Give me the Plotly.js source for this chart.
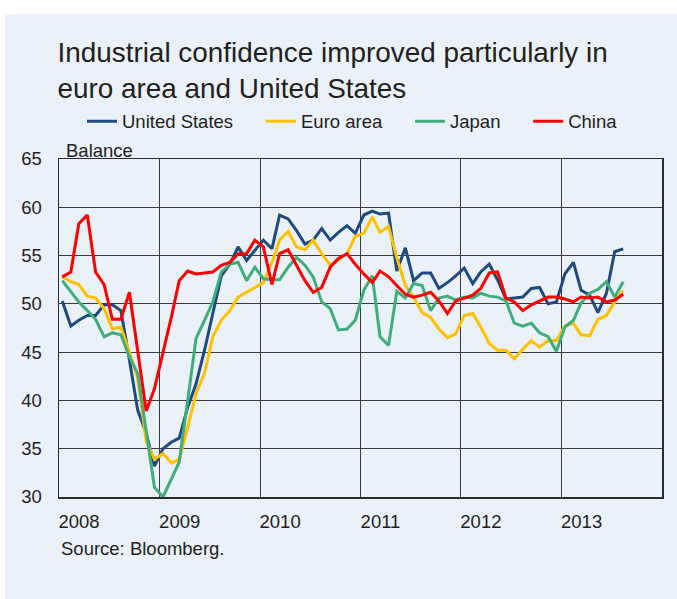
<!DOCTYPE html>
<html>
<head>
<meta charset="utf-8">
<script src="https://cdn.plot.ly/plotly-3.0.1.min.js"></script>
<style>
  html, body { margin: 0; padding: 0; background: #ffffff; width: 677px; height: 599px; overflow: hidden; }
  #chart { position: absolute; left: 5px; top: 14px; width: 672px; height: 585px; }
</style>
</head>
<body>
<div id="chart"></div>
<script>
// Months (Jan 2008 - Aug 2013)
const months = [
  '2008-01','2008-02','2008-03','2008-04','2008-05','2008-06','2008-07','2008-08','2008-09','2008-10','2008-11','2008-12',
  '2009-01','2009-02','2009-03','2009-04','2009-05','2009-06','2009-07','2009-08','2009-09','2009-10','2009-11','2009-12',
  '2010-01','2010-02','2010-03','2010-04','2010-05','2010-06','2010-07','2010-08','2010-09','2010-10','2010-11','2010-12',
  '2011-01','2011-02','2011-03','2011-04','2011-05','2011-06','2011-07','2011-08','2011-09','2011-10','2011-11','2011-12',
  '2012-01','2012-02','2012-03','2012-04','2012-05','2012-06','2012-07','2012-08','2012-09','2012-10','2012-11','2012-12',
  '2013-01','2013-02','2013-03','2013-04','2013-05','2013-06','2013-07','2013-08'
];

const unitedStates = [
  50.3,47.7,48.3,48.8,48.8,49.9,49.9,49.3,44.2,39.0,36.6,33.2,
  35.0,35.7,36.1,39.3,41.7,45.2,49.0,52.9,54.1,55.9,54.5,55.5,
  56.6,55.7,59.2,58.8,57.6,56.2,56.6,57.8,56.6,57.4,58.1,57.3,
  59.2,59.6,59.3,59.4,53.4,55.8,52.4,53.2,53.2,51.6,52.2,52.9,
  53.7,52.1,53.3,54.1,52.5,50.5,50.6,50.7,51.6,51.7,50.0,50.2,
  53.1,54.3,51.4,50.9,49.1,51.1,55.4,55.7
];

const euroArea = [
  52.8,52.3,52.0,50.8,50.6,49.5,47.4,47.6,45.0,42.3,35.8,33.9,
  34.5,33.5,33.9,37.2,40.7,42.8,46.6,48.3,49.3,50.7,51.2,51.7,
  52.2,54.3,56.6,57.5,55.9,55.6,56.6,55.2,54.0,54.6,55.2,57.0,
  57.3,59.0,57.4,58.0,54.8,51.9,50.7,49.1,48.6,47.4,46.5,46.9,
  48.8,49.0,47.6,45.9,45.2,45.2,44.3,45.3,46.2,45.5,46.2,46.2,
  47.7,48.0,46.8,46.7,48.4,48.8,50.2,51.4
];

const japan = [
  52.4,51.2,50.2,49.3,48.4,46.6,47.0,46.8,44.5,42.8,36.9,31.0,
  30.0,31.9,33.6,40.0,46.4,48.3,50.2,53.3,54.1,54.3,52.4,53.8,
  52.6,52.5,52.5,53.8,54.8,54.0,52.8,50.2,49.5,47.3,47.4,48.3,
  51.4,52.9,46.6,45.7,51.3,50.6,52.1,51.9,49.3,50.6,50.8,50.4,
  50.7,50.6,51.1,50.8,50.7,50.3,48.0,47.7,48.0,47.0,46.6,45.1,
  47.6,48.3,50.1,51.1,51.5,52.3,50.7,52.3
];

const china = [
  52.8,53.3,58.3,59.2,53.3,52.0,48.4,48.4,51.2,45.3,38.9,41.2,
  44.9,48.7,52.4,53.4,53.1,53.2,53.3,54.0,54.3,55.2,55.2,56.6,
  55.9,52.0,55.2,55.6,54.0,52.4,51.2,51.7,53.8,54.7,55.2,54.1,
  53.1,52.2,53.4,52.8,51.9,51.0,50.7,50.9,51.2,50.3,49.0,50.3,
  50.6,50.9,51.6,53.2,53.3,50.6,50.2,49.3,49.9,50.3,50.7,50.7,
  50.5,50.2,50.7,50.6,50.7,50.2,50.4,51.0
];

const seriesNames = ['United States', 'Euro area', 'Japan', 'China'];
const seriesColors = ['#1f4a7f', '#ffc000', '#40ad7d', '#ff0000'];
const seriesValues = [unitedStates, euroArea, japan, china];

const yearBoundaries = ['2007-12-20','2008-12-20','2009-12-20','2010-12-20','2011-12-20','2012-12-20'];
const yearLabels = ['2008','2009','2010','2011','2012','2013'];
const yTicks = [30, 35, 40, 45, 50, 55, 60, 65];

const FONT = "'Liberation Sans', Arial, sans-serif";
const TXT = '#231f20';
const FS = 18.5;
const legendX = [0.1146, 0.381, 0.6027, 0.7786];
const legendKeys = ['legend', 'legend2', 'legend3', 'legend4'];

const traces = seriesValues.map((vals, i) => ({
  type: 'scatter',
  mode: 'lines',
  name: seriesNames[i],
  x: months,
  y: vals,
  line: { color: seriesColors[i], width: 3 },
  legend: legendKeys[i],
  showlegend: true,
  hoverinfo: 'skip'
}));

const layout = {
  width: 672,
  height: 585,
  showlegend: true,
  paper_bgcolor: '#eaf1f8',
  plot_bgcolor: '#eaf1f8',
  margin: { l: 54, r: 15, t: 145, b: 102, autoexpand: false },
  font: { family: FONT, size: FS, color: TXT },
  title: {
    text: 'Industrial confidence improved particularly in<br>euro area and United States',
    font: { family: FONT, size: 27.9, color: TXT },
    xref: 'container', x: 0.078, xanchor: 'left',
    yref: 'container', y: 0.918, yanchor: 'top'
  },
  xaxis: {
    type: 'date',
    range: ['2007-12-20', '2013-12-20'],
    tickmode: 'array',
    tickvals: yearBoundaries,
    ticktext: yearLabels,
    ticks: '',
    ticklabelshift: 20,
    ticklabelstandoff: 7,
    tickfont: { family: FONT, size: FS, color: TXT },
    showgrid: true,
    gridcolor: '#3a3a3a',
    gridwidth: 1,
    showline: true,
    mirror: true,
    linecolor: '#2b2b2b',
    linewidth: 1.5,
    zeroline: false,
    fixedrange: true
  },
  yaxis: {
    range: [30, 65],
    tickmode: 'array',
    tickvals: yTicks,
    ticks: '',
    ticklabelstandoff: 12,
    tickfont: { family: FONT, size: FS, color: TXT },
    showgrid: true,
    gridcolor: '#3a3a3a',
    gridwidth: 1,
    showline: true,
    mirror: true,
    linecolor: '#2b2b2b',
    linewidth: 1.5,
    zeroline: false,
    fixedrange: true
  },
  annotations: [
    { text: 'Balance', xref: 'paper', yref: 'paper', x: 0.0075, y: 1.0266,
      xanchor: 'left', yanchor: 'middle', showarrow: false,
      font: { family: FONT, size: FS, color: TXT } },
    { text: 'Source: Bloomberg.', xref: 'paper', yref: 'paper', x: -0.0002, y: -0.1509,
      xanchor: 'left', yanchor: 'middle', showarrow: false,
      font: { family: FONT, size: FS, color: TXT } }
  ]
};

legendKeys.forEach((k, i) => {
  layout[k] = {
    orientation: 'h',
    visible: true,
    xref: 'container', x: legendX[i], xanchor: 'left',
    yref: 'container', y: 1 - 107.7 / 585, yanchor: 'middle',
    bgcolor: 'rgba(0,0,0,0)',
    borderwidth: 0,
    font: { family: FONT, size: FS, color: TXT },
    itemwidth: 30
  };
});

Plotly.newPlot('chart', traces, layout, { displayModeBar: false, staticPlot: true });
</script>
</body>
</html>
